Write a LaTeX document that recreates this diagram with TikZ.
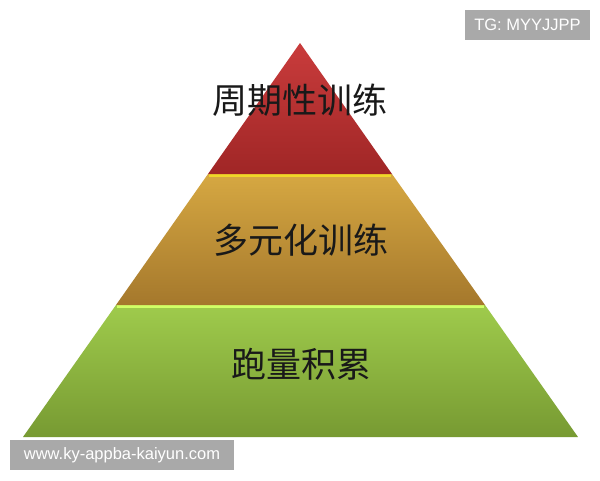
\documentclass[tikz,border=0pt]{standalone}
\usepackage{fontspec}
\newfontfamily\cjk{Noto Sans CJK SC}
\newfontfamily\wmfont{Liberation Sans}
\definecolor{redtop}{HTML}{C93C3C}
\definecolor{redbot}{HTML}{A02626}
\definecolor{goldtop}{HTML}{D6A842}
\definecolor{goldbot}{HTML}{A5782C}
\definecolor{greentop}{HTML}{9FCB4C}
\definecolor{greenbot}{HTML}{779A32}
\definecolor{wmgray}{HTML}{A9A9A9}
\tikzset{
  tierlabel/.style={font=\cjk\fontsize{35}{40}\selectfont, text=black!90},
  wmbox/.style={fill=wmgray, draw=none, inner sep=0pt, font=\wmfont\fontsize{16.5}{18}\selectfont, text=white},
  highlight/.style={line width=2.2pt, line cap=butt}
}
\begin{document}
\begin{tikzpicture}[x=1pt,y=-1pt]
\useasboundingbox (0,0) rectangle (600,480);
\fill[white] (0,0) rectangle (600,480);
% bottom tier
\shade[top color=greentop, bottom color=greenbot] (116,305) -- (485,305) -- (578,437) -- (23,437) -- cycle;
\draw[highlight, color=green!30!yellow!60!white] (117,306.5) -- (484,306.5);
% middle tier
\shade[top color=goldtop, bottom color=goldbot] (208,174) -- (392,174) -- (485,305) -- (116,305) -- cycle;
\draw[highlight, color=yellow!60!goldtop] (209,175.5) -- (391,175.5);
% top tier
\shade[top color=redtop, bottom color=redbot] (300,43) -- (392,174) -- (208,174) -- cycle;
% labels
\node[tierlabel] (t1) at (300,100) {周期性训练};
\node[tierlabel] (t2) at (301,240) {多元化训练};
\node[tierlabel] (t3) at (301,364) {跑量积累};
% watermarks
\node[wmbox, minimum width=125pt, minimum height=30pt] (wm1) at (527.5,25) {TG: MYYJJPP};
\node[wmbox, minimum width=224pt, minimum height=30pt] (wm2) at (122,455) {www.ky-appba-kaiyun.com};
\end{tikzpicture}
\end{document}
